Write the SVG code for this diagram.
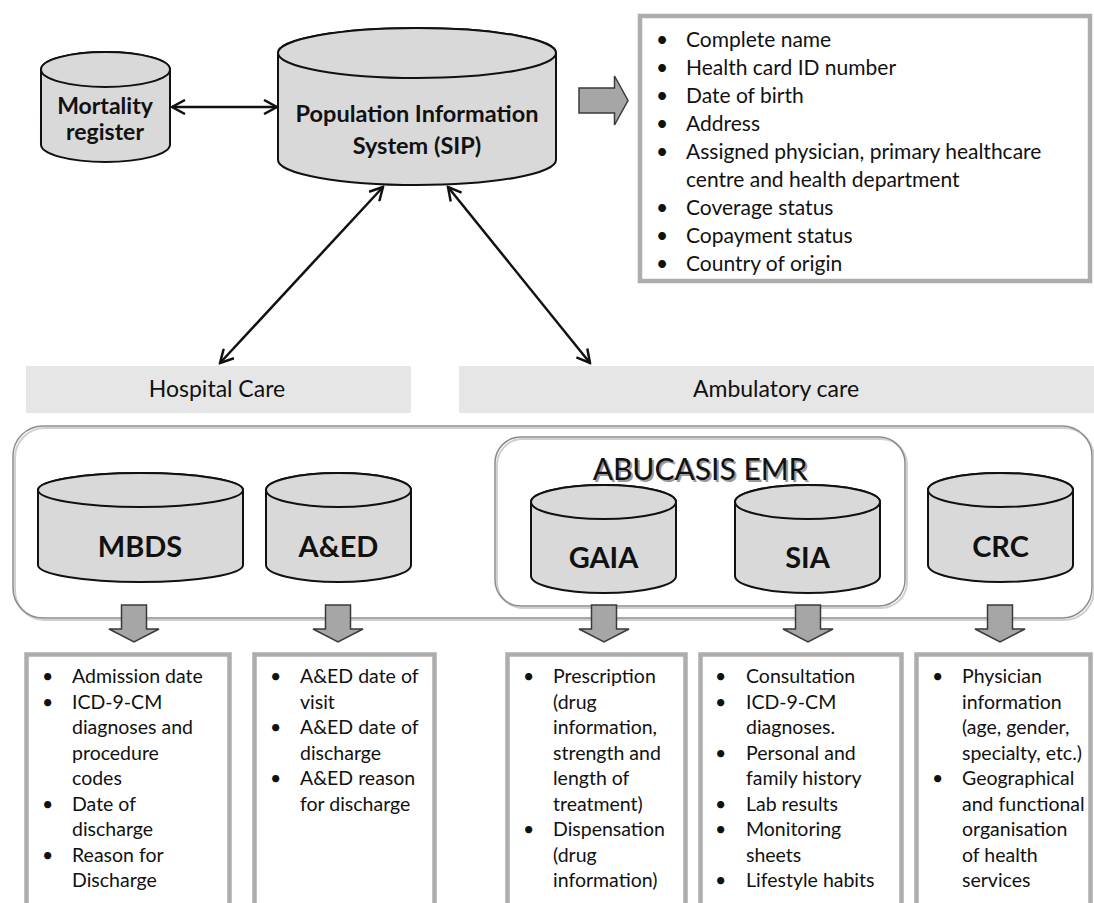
<svg xmlns="http://www.w3.org/2000/svg" width="1094" height="903" viewBox="0 0 1094 903">
<defs>
<style>
.cyl{fill:#d9d9d9;stroke:#111;stroke-width:2}
.blk{fill:#a6a6a6;stroke:#3a3a3a;stroke-width:1.5}
.box{fill:#fff;stroke:#adadad;stroke-width:4.5}
.band{fill:#e6e6e6}
.cont{fill:none;stroke:#8c8c8c;stroke-width:1.5}
.shad{fill:none;stroke:#d0d0d0;stroke-width:2}
.conn{stroke:#111;stroke-width:2.5;fill:none;marker-start:url(#ah);marker-end:url(#ah)}
.t{font-family:Lato,"Liberation Sans",sans-serif;fill:#111}
.b{font-weight:bold}
.lst{font-size:21px}
.bl{font-size:19.5px}
.mid{text-anchor:middle}
</style>
<marker id="ah" viewBox="0 0 16 16" refX="14" refY="8" markerWidth="16" markerHeight="16" markerUnits="userSpaceOnUse" orient="auto-start-reverse">
<path d="M1,1 L14,8 L1,15" fill="none" stroke="#111" stroke-width="2.5"/>
</marker>
</defs>

<g id="container-main">
<rect class="shad" x="15" y="428" width="1079" height="192" rx="30"/>
<rect class="cont" x="13" y="426" width="1079" height="192" rx="30"/>
</g>
<g id="abucasis">
<rect class="shad" x="497" y="439" width="410" height="169" rx="26"/>
<rect class="cont" x="495" y="437" width="410" height="169" rx="26"/>
<text class="t mid" x="702" y="482" font-size="30" style="fill:#9a9a9a">ABUCASIS EMR</text>
<text class="t mid" x="700" y="480" font-size="30">ABUCASIS EMR</text>
</g>

<g id="hospital-care">
<rect class="band" x="26" y="366" width="385" height="47"/>
<text class="t mid" x="217" y="397" font-size="23">Hospital Care</text>
</g>
<g id="ambulatory-care">
<rect class="band" x="459" y="366" width="635" height="47"/>
<text class="t mid" x="776" y="397" font-size="23">Ambulatory care</text>
</g>

<g id="mortality">
<path class="cyl" d="M41,69.5 A64.5,17.5 0 0 1 170,69.5 V144.5 A64.5,17.5 0 0 1 41,144.5 Z"/>
<ellipse class="cyl" cx="105.5" cy="69.5" rx="64.5" ry="17.5"/>
<text class="t b mid" x="105" y="114" font-size="23">Mortality</text>
<text class="t b mid" x="105" y="140" font-size="23">register</text>
</g>

<g id="sip">
<path class="cyl" d="M278,53 A139,25 0 0 1 556,53 V160 A139,25 0 0 1 278,160 Z"/>
<ellipse class="cyl" cx="417" cy="53" rx="139" ry="25"/>
<text class="t b mid" x="417" y="122" font-size="23.5">Population Information</text>
<text class="t b mid" x="417" y="154" font-size="23.5">System (SIP)</text>
</g>

<g id="sip-arrow">
<polygon class="blk" points="579,88 614.5,88 614.5,76 628,100.5 614.5,125 614.5,113 579,113"/>
</g>

<g id="sip-fields">
<rect class="box" x="640" y="16" width="450" height="265"/>
<g class="t lst">
<text x="656" y="47">•</text><text x="686" y="47">Complete name</text>
<text x="656" y="75">•</text><text x="686" y="75">Health card ID number</text>
<text x="656" y="103">•</text><text x="686" y="103">Date of birth</text>
<text x="656" y="131">•</text><text x="686" y="131">Address</text>
<text x="656" y="159">•</text><text x="686" y="159">Assigned physician, primary healthcare</text>
<text x="686" y="187">centre and health department</text>
<text x="656" y="215">•</text><text x="686" y="215">Coverage status</text>
<text x="656" y="243">•</text><text x="686" y="243">Copayment status</text>
<text x="656" y="271">•</text><text x="686" y="271">Country of origin</text>
</g>
</g>

<g id="mbds">
<path class="cyl" d="M38,490 A102.5,17 0 0 1 243,490 V565 A102.5,17 0 0 1 38,565 Z"/>
<ellipse class="cyl" cx="140.5" cy="490" rx="102.5" ry="17"/>
<text class="t b mid" x="140" y="557" font-size="29">MBDS</text>
</g>
<g id="aed">
<path class="cyl" d="M266,490 A72.5,17 0 0 1 411,490 V565 A72.5,17 0 0 1 266,565 Z"/>
<ellipse class="cyl" cx="338.5" cy="490" rx="72.5" ry="17"/>
<text class="t b mid" x="338.5" y="557" font-size="29">A&amp;ED</text>
</g>
<g id="gaia">
<path class="cyl" d="M531,502 A72.5,17 0 0 1 676,502 V576 A72.5,17 0 0 1 531,576 Z"/>
<ellipse class="cyl" cx="603.5" cy="502" rx="72.5" ry="17"/>
<text class="t b mid" x="603.5" y="568" font-size="29">GAIA</text>
</g>
<g id="sia">
<path class="cyl" d="M735,502 A72.5,17 0 0 1 880,502 V576 A72.5,17 0 0 1 735,576 Z"/>
<ellipse class="cyl" cx="807.5" cy="502" rx="72.5" ry="17"/>
<text class="t b mid" x="807.5" y="568" font-size="29">SIA</text>
</g>
<g id="crc">
<path class="cyl" d="M928,490 A72.5,17 0 0 1 1073,490 V565 A72.5,17 0 0 1 928,565 Z"/>
<ellipse class="cyl" cx="1000.5" cy="490" rx="72.5" ry="17"/>
<text class="t b mid" x="1000.5" y="557" font-size="29">CRC</text>
</g>

<g id="down-arrows">
<polygon class="blk" points="121.5,605 146.5,605 146.5,629 159,629 134,642 109,629 121.5,629"/>
<polygon class="blk" points="325.5,605 350.5,605 350.5,629 363,629 338,642 313,629 325.5,629"/>
<polygon class="blk" points="591.5,605 616.5,605 616.5,629 629,629 604,642 579,629 591.5,629"/>
<polygon class="blk" points="795.5,605 820.5,605 820.5,629 833,629 808,642 783,629 795.5,629"/>
<polygon class="blk" points="987.5,605 1012.5,605 1012.5,629 1025,629 1000,642 975,629 987.5,629"/>
</g>

<g id="mbds-fields">
<rect class="box" x="26.5" y="654.5" width="203" height="270"/>
<g class="t bl">
<text x="42" y="683">•</text><text x="72" y="683">Admission date</text>
<text x="42" y="708.5">•</text><text x="72" y="708.5">ICD-9-CM</text>
<text x="72" y="734">diagnoses and</text>
<text x="72" y="759.5">procedure</text>
<text x="72" y="785">codes</text>
<text x="42" y="810.5">•</text><text x="72" y="810.5">Date of</text>
<text x="72" y="836">discharge</text>
<text x="42" y="861.5">•</text><text x="72" y="861.5">Reason for</text>
<text x="72" y="887">Discharge</text>
</g>
</g>
<g id="aed-fields">
<rect class="box" x="254.5" y="654.5" width="180" height="270"/>
<g class="t bl">
<text x="270" y="683">•</text><text x="300" y="683">A&amp;ED date of</text>
<text x="300" y="708.5">visit</text>
<text x="270" y="734">•</text><text x="300" y="734">A&amp;ED date of</text>
<text x="300" y="759.5">discharge</text>
<text x="270" y="785">•</text><text x="300" y="785">A&amp;ED reason</text>
<text x="300" y="810.5">for discharge</text>
</g>
</g>
<g id="gaia-fields">
<rect class="box" x="507.5" y="654.5" width="178" height="270"/>
<g class="t bl">
<text x="523" y="683">•</text><text x="553" y="683">Prescription</text>
<text x="553" y="708.5">(drug</text>
<text x="553" y="734">information,</text>
<text x="553" y="759.5">strength and</text>
<text x="553" y="785">length of</text>
<text x="553" y="810.5">treatment)</text>
<text x="523" y="836">•</text><text x="553" y="836">Dispensation</text>
<text x="553" y="861.5">(drug</text>
<text x="553" y="887">information)</text>
</g>
</g>
<g id="sia-fields">
<rect class="box" x="700.5" y="654.5" width="201" height="270"/>
<g class="t bl">
<text x="715" y="683">•</text><text x="746" y="683">Consultation</text>
<text x="715" y="708.5">•</text><text x="746" y="708.5">ICD-9-CM</text>
<text x="746" y="734">diagnoses.</text>
<text x="715" y="759.5">•</text><text x="746" y="759.5">Personal and</text>
<text x="746" y="785">family history</text>
<text x="715" y="810.5">•</text><text x="746" y="810.5">Lab results</text>
<text x="715" y="836">•</text><text x="746" y="836">Monitoring</text>
<text x="746" y="861.5">sheets</text>
<text x="715" y="887">•</text><text x="746" y="887">Lifestyle habits</text>
</g>
</g>
<g id="crc-fields">
<rect class="box" x="916.5" y="654.5" width="174" height="270"/>
<g class="t bl">
<text x="932" y="683">•</text><text x="962" y="683">Physician</text>
<text x="962" y="708.5">information</text>
<text x="962" y="734">(age, gender,</text>
<text x="962" y="759.5">specialty, etc.)</text>
<text x="932" y="785">•</text><text x="962" y="785">Geographical</text>
<text x="962" y="810.5">and functional</text>
<text x="962" y="836">organisation</text>
<text x="962" y="861.5">of health</text>
<text x="962" y="887">services</text>
</g>
</g>

<g id="connectors">
<line class="conn" x1="172" y1="107" x2="277" y2="107"/>
<line class="conn" x1="383" y1="187" x2="220" y2="363"/>
<line class="conn" x1="448" y1="187" x2="590" y2="363"/>
</g>
</svg>
